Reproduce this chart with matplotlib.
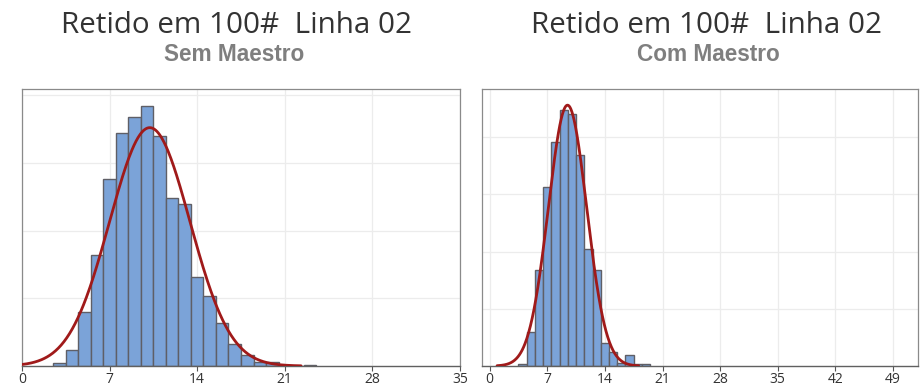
import numpy as np
import matplotlib
matplotlib.use("Agg")
import matplotlib.pyplot as plt

# ---------------- data ----------------
title_text = "Retido em 100#  Linha 02"
subtitles = ["Sem Maestro", "Com Maestro"]

# Left: Sem Maestro (bin centres, bin width 1)
sem_bins = [3, 4, 5, 6, 7, 8, 9, 10, 11, 12, 13, 14, 15, 16, 17, 18, 19, 20, 21, 22, 23]
sem_freq = [1, 6, 20, 41, 69, 86, 92, 96, 85, 62, 60, 33, 26, 16, 8, 4, 1.3, 1.6, 0, 0, 0.4]
sem_mean, sem_sd = 10.21, 3.21
sem_curve_range = (0.0, 22.3)

# Right: Com Maestro
com_bins = [4, 5, 6, 7, 8, 9, 10, 11, 12, 13, 14, 15, 16, 17, 18, 19]
com_freq = [1, 15, 42, 78, 98, 112, 110, 92, 51, 42, 10, 6, 1.5, 5, 1, 1]
com_mean, com_sd = 9.46, 2.33
com_curve_range = (0.9, 18.1)

sem_xticks = [0, 7, 14, 21, 28, 35]
com_xticks = [0, 7, 14, 21, 28, 35, 42, 49]

# ---------------- style ----------------
BAR_FILL = "#7ba3d8"
BAR_EDGE = "#5f5f66"
CURVE = "#a01a1a"
GRID = "#ececec"
SPINE = "#8a8a8a"
TICKC = "#333333"

fig = plt.figure(figsize=(9.22, 3.89), dpi=100)
fig.patch.set_facecolor("white")

W, H = 922, 389


def make_axes(x0, x1, ytop, ybot):
    return fig.add_axes([x0 / W, 1 - ybot / H, (x1 - x0) / W, (ybot - ytop) / H])


ax1 = make_axes(22, 460, 89, 366)
ax2 = make_axes(482, 918, 89, 366)


def draw(ax, bins, freq, mean, sd, crange, xlim, ylim, xticks):
    ax.set_facecolor("white")
    bins = np.asarray(bins, dtype=float)
    freq = np.asarray(freq, dtype=float)
    ax.bar(bins, freq, width=1.0, color=BAR_FILL, edgecolor=BAR_EDGE,
           linewidth=1.0, zorder=2)
    n = freq.sum()
    xs = np.linspace(crange[0], crange[1], 400)
    ys = n * 1.0 / (sd * np.sqrt(2 * np.pi)) * np.exp(-0.5 * ((xs - mean) / sd) ** 2)
    ax.plot(xs, ys, color=CURVE, lw=2.0, zorder=3, solid_capstyle="round")
    ax.set_xlim(*xlim)
    ax.set_ylim(*ylim)
    ax.set_xticks(xticks)
    ax.set_xticklabels([str(t) for t in xticks])
    ax.set_yticks(np.arange(25, ylim[1], 25))
    ax.tick_params(axis="y", left=False, labelleft=False)
    ax.tick_params(axis="x", length=3.5, width=0.8, color="#555555", pad=1,
                   labelsize=10, labelcolor=TICKC)
    for lab in ax.get_xticklabels():
        lab.set_fontfamily("Open Sans")
    ax.grid(True, color=GRID, lw=0.9, zorder=0)
    ax.set_axisbelow(True)
    for side in ["left", "top", "right"]:
        ax.spines[side].set_color(SPINE)
        ax.spines[side].set_linewidth(0.9)
    ax.spines["bottom"].set_color("#606060")
    ax.spines["bottom"].set_linewidth(1.0)


draw(ax1, sem_bins, sem_freq, sem_mean, sem_sd, sem_curve_range,
     (0, 35), (0, 102.3), sem_xticks)
draw(ax2, com_bins, com_freq, com_mean, com_sd, com_curve_range,
     (-0.93, 52.04), (0, 121), com_xticks)

for cx, scx, sub in zip([236, 706], [234, 708], subtitles):
    fig.text(cx / W, 1 - 33 / H, title_text, ha="center", va="baseline",
             fontsize=21.3, color="#333333", family="Open Sans")
    fig.text(scx / W, 1 - 61 / H, sub, ha="center", va="baseline",
             fontsize=16.3, color="#7f7f7f", family="Liberation Sans",
             fontweight="bold")

fig.savefig("out.png", dpi=100, facecolor="white")
